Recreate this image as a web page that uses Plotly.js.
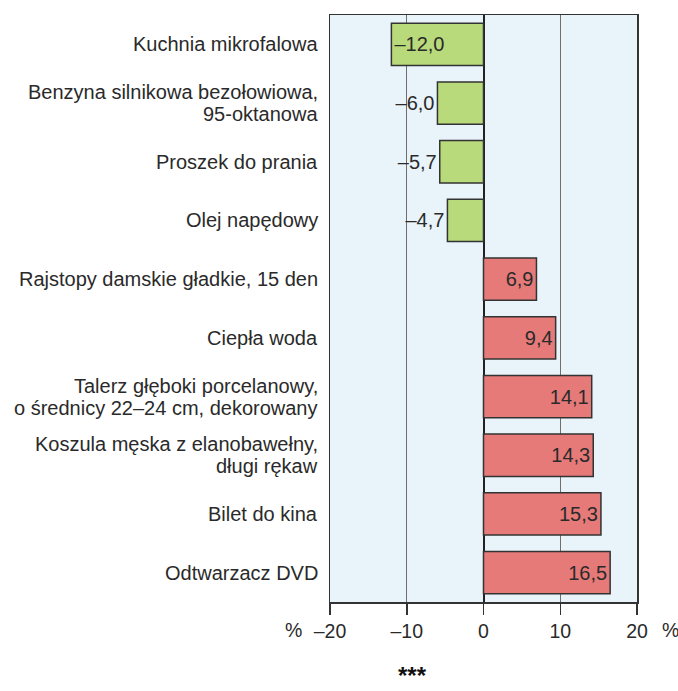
<!DOCTYPE html>
<html>
<head>
<meta charset="utf-8">
<script src="https://cdn.plot.ly/plotly-3.0.1.min.js"></script>
<style>html,body{margin:0;padding:0;background:#fff;}#chart{width:678px;height:691px;}</style>
</head>
<body>
<div id="chart"></div>
<script>
const categories = [
  "Kuchnia mikrofalowa",
  "Benzyna silnikowa bezołowiowa,<br>95-oktanowa",
  "Proszek do prania",
  "Olej napędowy",
  "Rajstopy damskie gładkie, 15 den",
  "Ciepła woda",
  "Talerz głęboki porcelanowy,<br>o średnicy 22–24 cm, dekorowany",
  "Koszula męska z elanobawełny,<br>długi rękaw",
  "Bilet do kina",
  "Odtwarzacz DVD"
];
const values = [-12.0, -6.0, -5.7, -4.7, 6.9, 9.4, 14.1, 14.3, 15.3, 16.5];
const labelPositions = ["inside","outside","outside","outside","inside","inside","inside","inside","inside","inside"];
const tickValues = [-20, -10, 0, 10, 20];
const tickLabels = ["–20", "–10", "0", "10", "20"];

const FONT = "Liberation Sans, Arial, sans-serif";
const TXT = "#2a2a2a";
const fmt = v => (v < 0 ? "–" : "") + Math.abs(v).toFixed(1).replace(".", ",");
const colors = values.map(v => v < 0 ? "#b9da7b" : "#e67a79");

const trace = {
  type: "bar",
  orientation: "h",
  x: values,
  y: categories,
  text: values.map(fmt),
  textposition: labelPositions,
  insidetextanchor: "end",
  textfont: {family: FONT, size: 20, color: TXT},
  insidetextfont: {family: FONT, size: 20, color: TXT},
  outsidetextfont: {family: FONT, size: 20, color: TXT},
  cliponaxis: false,
  constraintext: "none",
  marker: {color: colors, line: {color: "#333", width: 1.5}},
  hoverinfo: "none"
};

// category labels as annotations, tight line spacing
const catAnnotations = [];
categories.forEach(cat => {
  const lines = cat.split("<br>");
  const n = lines.length;
  lines.forEach((line, i) => {
    catAnnotations.push({
      xref: "paper", yref: "y", x: 0, y: cat,
      xanchor: "right", yanchor: "middle",
      xshift: -10, yshift: ((n - 1) / 2 - i) * 22,
      text: line, showarrow: false,
      font: {family: FONT, size: 20, color: TXT}
    });
  });
});

const layout = {
  width: 678, height: 691,
  margin: {l: 330, r: 41, t: 15, b: 89},
  paper_bgcolor: "#ffffff",
  plot_bgcolor: "#e8f3fa",
  bargap: 0.28,
  showlegend: false,
  font: {family: FONT, size: 20, color: TXT},
  xaxis: {
    range: [-20, 20],
    tickvals: tickValues,
    ticktext: tickLabels,
    showgrid: true, gridcolor: "#6e6e6e", gridwidth: 1,
    zeroline: true, zerolinecolor: "#222", zerolinewidth: 2,
    showline: true, linecolor: "#333", linewidth: 1.5, mirror: true,
    ticks: "outside", ticklen: 11, tickcolor: "#333", tickwidth: 1.5,
    tickfont: {family: FONT, size: 19.5, color: TXT},
    fixedrange: true
  },
  yaxis: {
    autorange: "reversed",
    showline: true, linecolor: "#333", linewidth: 1.5, mirror: true,
    ticks: "", showticklabels: false,
    fixedrange: true
  },
  annotations: catAnnotations.concat([
    {xref: "paper", yref: "paper", x: 0, y: 0, xanchor: "right", yanchor: "top", xshift: -26, yshift: -15,
     text: "%", showarrow: false, font: {family: FONT, size: 19.5, color: TXT}},
    {xref: "paper", yref: "paper", x: 1, y: 0, xanchor: "left", yanchor: "top", xshift: 23, yshift: -15,
     text: "%", showarrow: false, font: {family: FONT, size: 19.5, color: TXT}},
    {xref: "paper", yref: "paper", x: 0.27, y: 0, xanchor: "center", yanchor: "bottom", yshift: -88,
     text: "<b>***</b>", showarrow: false, borderpad: 0, font: {family: FONT, size: 24, color: "#111"}}
  ])
};

Plotly.newPlot("chart", [trace], layout, {displayModeBar: false, staticPlot: true});
</script>
</body>
</html>
